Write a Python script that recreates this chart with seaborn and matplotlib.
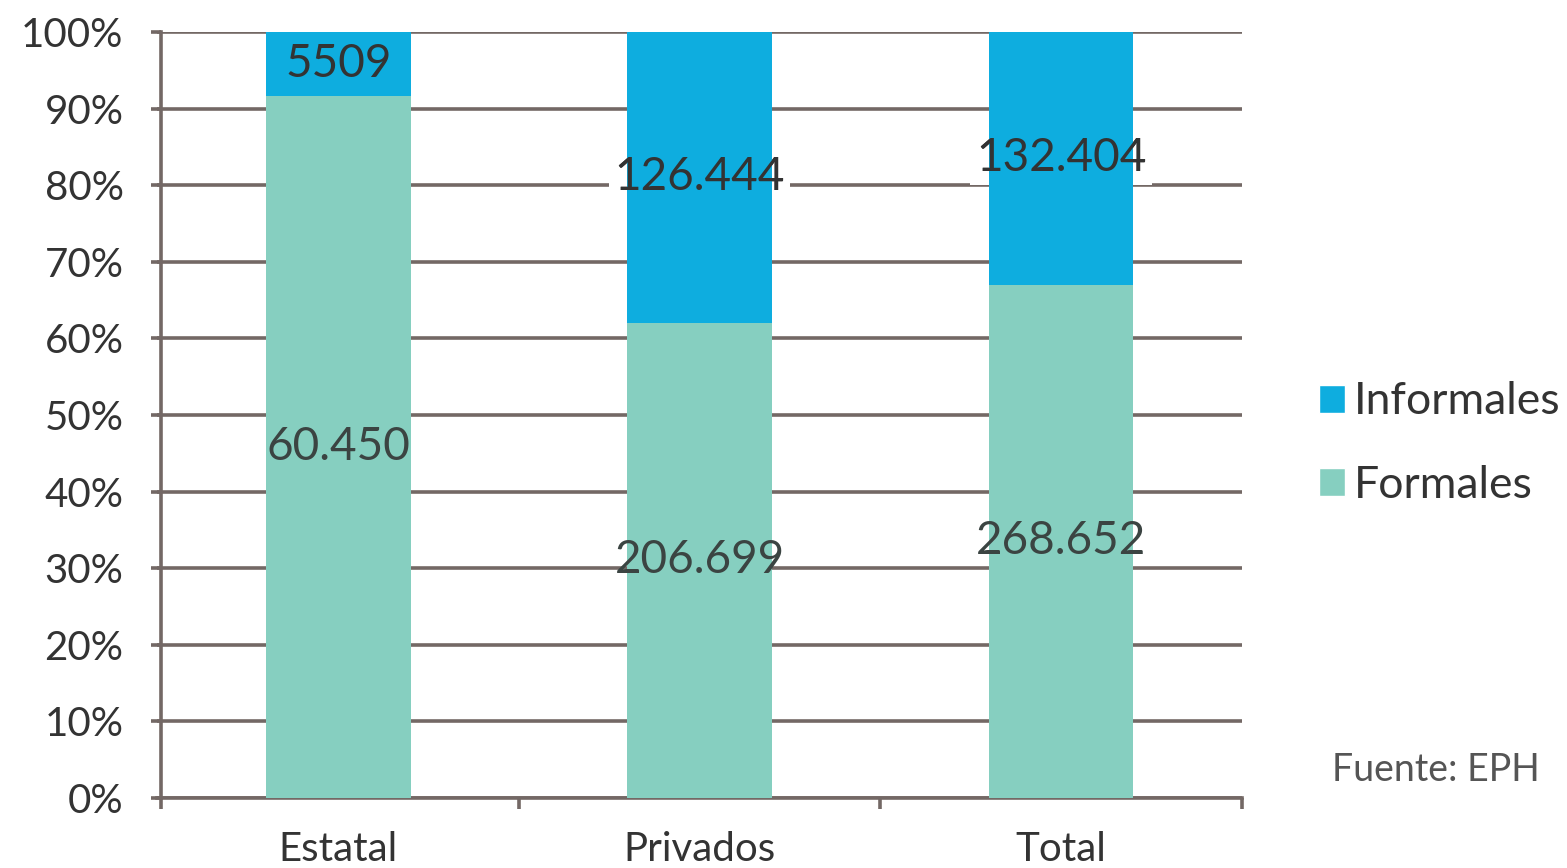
import numpy as np
import pandas as pd
import seaborn as sns
import matplotlib.pyplot as plt
from matplotlib.patches import Patch
from matplotlib.ticker import FixedLocator

categorias = ['Estatal', 'Privados', 'Total']
formales = [60450, 206699, 268652]
informales = [5509, 126444, 132404]
etiquetas_formales = ['60.450', '206.699', '268.652']
etiquetas_informales = ['5509', '126.444', '132.404']
y_ticks = [0, 10, 20, 30, 40, 50, 60, 70, 80, 90, 100]

c_inf = '#0eaddf'
c_for = '#86cfc0'
c_grid = '#736865'
c_text = '#333333'

sns.set_theme(style='white')
plt.rcParams['font.family'] = ['Lato', 'DejaVu Sans']

df = pd.DataFrame({'cat': categorias, 'for': formales, 'inf': informales})
df['tot'] = df['for'] + df['inf']
df['p_for'] = df['for'] / df['tot'] * 100
df['p_tot'] = 100.0

fig = plt.figure(figsize=(15.67, 8.68), dpi=100)
ax = fig.add_axes([0.1005, 0.0806, 0.692, 0.8825])

# informales = top part (full bar), formales drawn over it
sns.barplot(data=df, x='cat', y='p_tot', color=c_inf, width=0.4, saturation=1,
            linewidth=0, ax=ax, zorder=3)
sns.barplot(data=df, x='cat', y='p_for', color=c_for, width=0.4, saturation=1,
            linewidth=0, ax=ax, zorder=3)

ax.set_ylim(0, 100)
ax.set_xlim(-0.5, 2.5)
ax.set_yticks(y_ticks)
ax.set_yticklabels([f'{t}%' for t in y_ticks])
ax.yaxis.grid(True, color=c_grid, linewidth=2.6, zorder=0)
ax.set_axisbelow(True)
for s in ['top', 'right']:
    ax.spines[s].set_visible(False)
ax.spines['left'].set_color(c_grid)
ax.spines['left'].set_linewidth(2.6)
ax.spines['left'].set_position(('data', -0.49))
ax.spines['bottom'].set_color(c_grid)
ax.spines['bottom'].set_linewidth(2.6)
ax.set_xlabel('')
ax.set_ylabel('')

ax.tick_params(axis='y', which='major', left=True, length=7, width=2.6,
               color=c_grid, pad=20, labelsize=29, labelcolor=c_text)
ax.tick_params(axis='x', which='major', bottom=False, pad=18, labelsize=29,
               labelcolor=c_text)
ax.xaxis.set_minor_locator(FixedLocator([-0.49, 0.5, 1.5, 2.5]))
ax.tick_params(axis='x', which='minor', bottom=True, length=8, width=2.6,
               color=c_grid)

for i in range(len(categorias)):
    pf = df['p_for'][i]
    ax.text(i, pf / 2, etiquetas_formales[i], ha='center', va='center',
            fontsize=33, color='#3b4442', zorder=6)
    yi = pf + (100 - pf) / 2
    if i > 0:
        # white box behind the bar that hides the gridline
        ax.text(i, yi, etiquetas_informales[i], ha='center', va='center',
                fontsize=33, color=c_text, zorder=2,
                bbox=dict(facecolor='white', edgecolor='none', pad=4))
    ax.text(i, yi, etiquetas_informales[i], ha='center', va='center',
            fontsize=33, color=c_text, zorder=6)

handles = [Patch(facecolor=c_inf, label='Informales'),
           Patch(facecolor=c_for, label='Formales')]
fig.legend(handles=handles, loc='center left', bbox_to_anchor=(0.8415, 0.489),
           frameon=False, fontsize=32, handlelength=0.6, handleheight=0.6,
           handletextpad=0.2, labelspacing=0.95, labelcolor=c_text,
           borderpad=0, borderaxespad=0)

fig.text(0.85, 0.1, 'Fuente: EPH', fontsize=27, color='#555555', ha='left')

fig.savefig('out.png', dpi=100)
